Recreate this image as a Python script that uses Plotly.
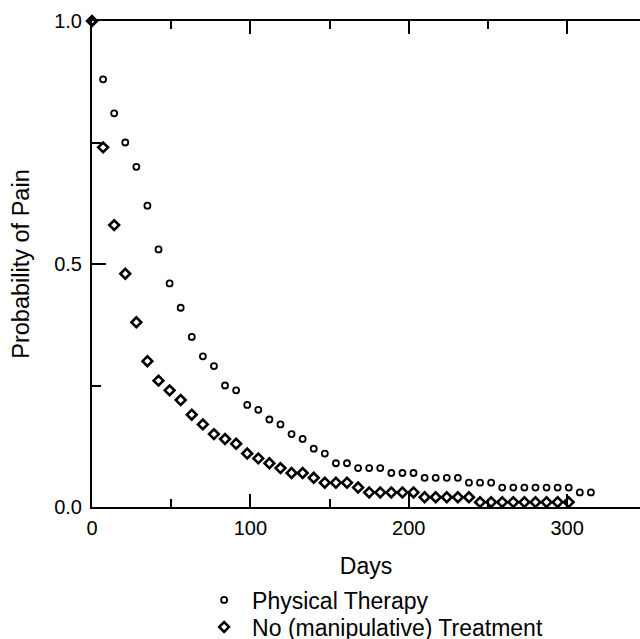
import plotly.graph_objects as go

days = [0, 7, 14, 21, 28, 35, 42, 49, 56, 63, 70, 77, 84, 91, 98, 105, 112, 119, 126, 133,
        140, 147, 154, 161, 168, 175, 182, 189, 196, 203, 210, 217, 224, 231, 238, 245,
        252, 259, 266, 273, 280, 287, 294, 301, 308, 315]

physical_therapy = [1.00, 0.88, 0.81, 0.75, 0.70, 0.62, 0.53, 0.46, 0.41, 0.35, 0.31, 0.29,
                    0.25, 0.24, 0.21, 0.20, 0.18, 0.17, 0.15, 0.14, 0.12, 0.11, 0.09, 0.09,
                    0.08, 0.08, 0.08, 0.07, 0.07, 0.07, 0.06, 0.06, 0.06, 0.06, 0.05, 0.05,
                    0.05, 0.04, 0.04, 0.04, 0.04, 0.04, 0.04, 0.04, 0.03, 0.03]

days_nt = days[:44]
no_treatment = [1.00, 0.74, 0.58, 0.48, 0.38, 0.30, 0.26, 0.24, 0.22, 0.19, 0.17, 0.15,
                0.14, 0.13, 0.11, 0.10, 0.09, 0.08, 0.07, 0.07, 0.06, 0.05, 0.05, 0.05,
                0.04, 0.03, 0.03, 0.03, 0.03, 0.03, 0.02, 0.02, 0.02, 0.02, 0.02, 0.01,
                0.01, 0.01, 0.01, 0.01, 0.01, 0.01, 0.01, 0.01]

FONT = "Liberation Sans, Arial, sans-serif"

fig = go.Figure()
fig.add_trace(go.Scatter(
    x=days, y=physical_therapy, mode="markers", name="Physical Therapy",
    marker=dict(symbol="circle-open", size=6, color="black", line=dict(width=1.8, color="black")),
    cliponaxis=False, legend="legend",
))
fig.add_trace(go.Scatter(
    x=days_nt, y=no_treatment, mode="markers", name="No (manipulative) Treatment",
    marker=dict(symbol="diamond-open", size=7.5, color="black", line=dict(width=2.6, color="black")),
    cliponaxis=False, legend="legend2",
))

legend_style = dict(
    x=0.19, xanchor="left", yanchor="middle",
    font=dict(family=FONT, size=23, color="black"),
    bgcolor="rgba(0,0,0,0)", itemsizing="trace", itemwidth=46,
)

fig.update_layout(
    width=640, height=639, autosize=False,
    margin=dict(l=92, r=0, t=21, b=132, autoexpand=False),
    plot_bgcolor="white", paper_bgcolor="white",
    font=dict(family=FONT, size=20, color="black"),
    showlegend=True,
    legend=dict(y=-0.1914, **legend_style),
    legend2=dict(y=-0.2469, **legend_style),
)

fig.update_xaxes(
    range=[0, 346], showgrid=False, zeroline=False,
    showline=True, linewidth=2, linecolor="black", mirror="ticks",
    ticks="inside", ticklen=13, tickwidth=2, tickcolor="black",
    tickmode="array", tickvals=[0, 100, 200, 300], ticktext=["0", "100", "200", "300"],
    minor=dict(tickmode="array", tickvals=[50, 150, 250], ticks="inside", ticklen=8, tickwidth=2, tickcolor="black"),
    tickfont=dict(size=20), ticklabelstandoff=2,
    title=dict(text="Days", font=dict(size=23), standoff=20),
)
fig.update_yaxes(
    range=[0, 1], showgrid=False, zeroline=False,
    showline=True, linewidth=2, linecolor="black",
    ticks="inside", ticklen=14, tickwidth=2, tickcolor="black",
    tickmode="array", tickvals=[0, 0.5, 1.0], ticktext=["0.0", "0.5", "1.0"],
    minor=dict(tickmode="array", tickvals=[0.25, 0.75], ticks="inside", ticklen=9, tickwidth=2, tickcolor="black"),
    tickfont=dict(size=20), ticklabelstandoff=4,
    title=dict(text="Probability of Pain", font=dict(size=23.5), standoff=18),
)

fig.write_html("out.html")
